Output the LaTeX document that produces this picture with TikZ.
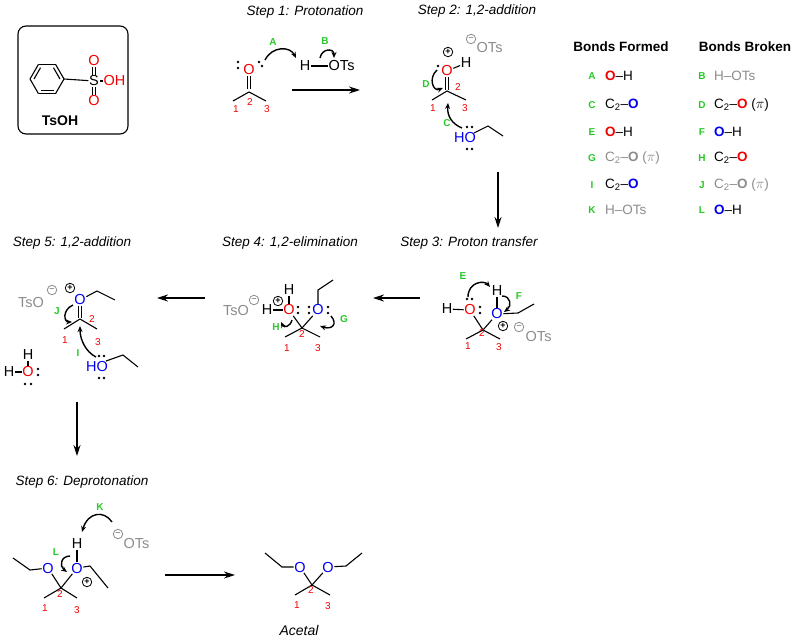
\documentclass[tikz,border=0pt]{standalone}
\usepackage{fontspec}
\setmainfont{Liberation Sans}
\usetikzlibrary{arrows.meta}
\definecolor{ored}{RGB}{240,0,0}
\definecolor{oblue}{RGB}{0,0,240}
\definecolor{lgreen}{RGB}{40,200,40}
\definecolor{tsgray}{RGB}{140,140,140}
\tikzset{
  atom/.style={inner sep=0.5pt,font=\fontsize{14.5}{15}\selectfont},
  ored/.style={atom,text=ored},
  oblue/.style={atom,text=oblue},
  num/.style={inner sep=0pt,text=ored,font=\fontsize{10}{10}\selectfont},
  lbl/.style={inner sep=0pt,text=lgreen,font=\fontsize{10}{10}\selectfont\bfseries},
  steptitle/.style={inner sep=0pt,font=\fontsize{13.5}{14}\selectfont\itshape},
  gray/.style={atom,text=tsgray},
  chg/.style={circle,draw,line width=0.8pt,inner sep=0pt,minimum size=9.5pt,font=\fontsize{9}{9}\selectfont\bfseries},
  bond/.style={line width=1.1pt},
  push/.style={line width=1.4pt,-{Stealth[length=6pt,width=5pt]}},
  react/.style={line width=1.2pt,-{Stealth[length=11pt,width=7pt]}},
  lp/.style={circle,fill,inner sep=0pt,minimum size=2.6pt},
  tbl/.style={anchor=west,inner sep=0pt,font=\fontsize{13.5}{14}\selectfont},
}
\begin{document}
\begin{tikzpicture}[x=1pt,y=-1pt]
\useasboundingbox (0,0) rectangle (794,640);

% TsOH
\draw[line width=1.1pt,rounded corners=8pt] (18,26) rectangle (128,134);
\foreach \a in {0,60,...,300} \draw[bond,shift={(47,79)}] (\a:17) -- (\a+60:17);
\foreach \a in {0,120,240} \draw[bond,shift={(47,79)}] (\a+60:13) -- (\a+120:13);
\node[atom] (s) at (94,81) {S};
\node[ored] (so1) at (94,61) {O};
\node[ored] (so2) at (94,101) {O};
\node[ored,anchor=west] (soh) at (103,81) {OH};
\draw[bond] (64,79) -- (s);
\draw[bond] (s) -- (soh);
\draw[bond] ([xshift=-1.5pt]s.north) -- ([xshift=-1.5pt]so1.south);
\draw[bond] ([xshift=1.5pt]s.north) -- ([xshift=1.5pt]so1.south);
\draw[bond] ([xshift=-1.5pt]s.south) -- ([xshift=-1.5pt]so2.north);
\draw[bond] ([xshift=1.5pt]s.south) -- ([xshift=1.5pt]so2.north);
\node[font=\fontsize{14}{14}\selectfont\bfseries] (tsoh) at (60,121) {TsOH};

% Step 1
\node[steptitle] (t1) at (305,12) {Step 1: Protonation};
\node[ored] (o1) at (249,70) {O};
\coordinate (c1) at (249,92);
\draw[bond] ([xshift=-1.5pt]o1.south) -- ++(0,13);
\draw[bond] ([xshift=1.5pt]o1.south) -- ++(0,13);
\draw[bond] (233,101) -- (c1) -- (266,101);
\node[lp] at (238,62) {}; \node[lp] at (238,68) {};
\node[lp] at (259,62) {}; \node[lp] at (262,66) {};
\node[num] at (236,109) {1}; \node[num] at (250,102) {2}; \node[num] at (267,109) {3};
\node[atom] (h1) at (305,66) {H};
\node[atom,anchor=west] (ots1) at (328,66) {OTs};
\draw[bond] (h1) -- (ots1);
\draw[push] (265,60) .. controls (272,46) and (290,46) .. (296,58);
\node[lbl] (la) at (273,42) {A};
\draw[push] (320,58) .. controls (322,48) and (334,48) .. (334,58);
\node[lbl] (lb) at (325,41) {B};
\coordinate (r1a) at (292,90); \coordinate (r1b) at (360,90);
\draw[react] (r1a) -- (r1b);

% Step 2
\node[steptitle] (t2) at (477,11) {Step 2: 1,2-addition};
\node[ored] (o2) at (447,71) {O};
\node[atom] (h2) at (466,63) {H};
\draw[bond] (o2) -- (h2);
\node[chg] at (448,52) {+};
\node[chg,text=tsgray,draw=tsgray] at (471,39) {--};
\node[gray,anchor=west] at (476,48) {OTs};
\draw[bond] ([xshift=-1.5pt]o2.south) -- ++(0,13);
\draw[bond] ([xshift=1.5pt]o2.south) -- ++(0,13);
\draw[bond] (432,100) -- (447,91) -- (466,100);
\node[num] at (433,108) {1}; \node[num] at (458,87) {2}; \node[num] at (465,108) {3};
\node[lp] at (438,66) {}; 
\draw[push] (437,70) .. controls (428,78) and (433,92) .. (443,88);
\node[lbl] (ld) at (426,84) {D};
\node[oblue] (ho2) at (465,138) {HO};
\draw[bond] (474,133) -- (488,126) -- (503,136);
\node[lp] at (467,127) {}; \node[lp] at (472,127) {};
\node[lp] at (467,149) {}; \node[lp] at (472,149) {};
\draw[push] (462,128) .. controls (452,124) and (447,116) .. (448,103);
\node[lbl] (lc) at (447,123) {C};
\draw[react] (498,172) -- (498,228);

% Bonds table
\node[font=\fontsize{13.5}{14}\selectfont\bfseries] at (621,47) {Bonds Formed};
\node[font=\fontsize{13.5}{14}\selectfont\bfseries] at (745,47) {Bonds Broken};
\newcommand{\bO}[1]{\textcolor{#1}{\textbf{O}}}
\newcommand{\ctwo}{C\textsubscript{2}}
\foreach \y/\la/\fa/\lb/\fb in {
  76/A/{\bO{ored}--H}/B/{\textcolor{tsgray}{H--OTs}},
  105/C/{\ctwo--\bO{oblue}}/D/{\ctwo--\bO{ored} ($\pi$)},
  132/E/{\bO{ored}--H}/F/{\bO{oblue}--H},
  158/G/{\textcolor{tsgray}{\ctwo--\textbf{O} ($\pi$)}}/H/{\ctwo--\bO{ored}},
  185/I/{\ctwo--\bO{oblue}}/J/{\textcolor{tsgray}{\ctwo--\textbf{O} ($\pi$)}},
  210/K/{\textcolor{tsgray}{H--OTs}}/L/{\bO{oblue}--H}}{
  \node[lbl] at (592,\y) {\la};
  \node[tbl] at (605,\y) {\fa};
  \node[lbl] at (702,\y) {\lb};
  \node[tbl] at (714,\y) {\fb};
}

% Step 3
\node[steptitle] (t3) at (469,243) {Step 3: Proton transfer};
\node[atom] (h3a) at (447,309) {H};
\node[ored] (o3a) at (470,310) {O};
\draw[bond] (h3a) -- (o3a);
\node[oblue] (o3b) at (497,314) {O};
\node[atom] (h3b) at (497,291) {H};
\draw[bond] (h3b) -- (o3b);
\draw[bond] (o3a) -- (483,330) -- (o3b);
\draw[bond] (466,339) -- (483,330) -- (500,339);
\draw[bond] (o3b) -- (518,313) -- (534,304);
\node[chg] at (503,326) {+};
\node[lp] at (467,299) {}; \node[lp] at (472,299) {};
\node[lp] at (480,307) {}; \node[lp] at (480,313) {};
\node[chg,text=tsgray,draw=tsgray] at (519,327) {--};
\node[gray,anchor=west] at (525,337) {OTs};
\node[num] at (468,346) {1}; \node[num] at (482,333) {2}; \node[num] at (499,347) {3};
\draw[push] (468,297) .. controls (468,282) and (484,280) .. (490,287);
\node[lbl] (le) at (463,276) {E};
\draw[push] (502,296) .. controls (511,296) and (512,306) .. (504,312);
\node[lbl] (lf) at (519,296) {F};
\draw[react] (420,298) -- (373,298);

% Step 4
\node[steptitle] (t4) at (290,243) {Step 4: 1,2-elimination};
\node[gray] (ts4) at (236,311) {TsO};
\node[chg,text=tsgray,draw=tsgray] at (254,300) {--};
\node[atom] (h4a) at (267,310) {H};
\node[ored] (o4a) at (289,310) {O};
\node[atom] (h4b) at (289,290) {H};
\draw[bond] (h4a) -- (o4a); \draw[bond] (h4b) -- (o4a);
\node[chg] at (278,301) {+};
\node[oblue] (o4b) at (318,310) {O};
\draw[bond] (o4a) -- (302,328) -- (o4b);
\draw[bond] (285,337) -- (302,328) -- (320,337);
\draw[bond] (o4b) -- (318,290) -- (333,280);
\node[lp] at (298,307) {}; \node[lp] at (298,313) {};
\node[lp] at (309,307) {}; \node[lp] at (309,313) {};
\node[lp] at (328,307) {}; \node[lp] at (328,313) {};
\node[num] at (287,348) {1}; \node[num] at (302,334) {2}; \node[num] at (318,348) {3};
\draw[push] (292,320) .. controls (290,327) and (284,328) .. (281,322);
\node[lbl] (lh) at (276,327) {H};
\draw[push] (331,316) .. controls (338,324) and (332,330) .. (320,326);
\node[lbl] (lg) at (344,319) {G};
\draw[react] (205,298) -- (157,298);

% Step 5
\node[steptitle] (t5) at (72,243) {Step 5: 1,2-addition};
\node[gray] (ts5) at (31,303) {TsO};
\node[chg,text=tsgray,draw=tsgray] at (52,290) {--};
\node[chg] at (70,288) {+};
\node[oblue] (o5) at (80,300) {O};
\draw[bond] (o5) -- (97,291) -- (115,300);
\draw[bond] ([xshift=-1.5pt]o5.south) -- ++(0,12);
\draw[bond] ([xshift=1.5pt]o5.south) -- ++(0,12);
\draw[bond] (64,329) -- (80,319) -- (97,329);
\node[num] at (65,340) {1}; \node[num] at (92,319) {2}; \node[num] at (98,342) {3};
\draw[push] (73,305) .. controls (62,310) and (64,322) .. (72,322);
\node[lbl] (lj) at (57,311) {J};
\node[oblue] (ho5) at (97,367) {HO};
\draw[bond] (106,361) -- (123,355) -- (138,367);
\node[lp] at (99,356) {}; \node[lp] at (104,356) {};
\node[lp] at (99,378) {}; \node[lp] at (104,378) {};
\draw[push] (96,357) .. controls (86,352) and (80,340) .. (80,326);
\node[lbl] (li) at (78,353) {I};
\node[atom] (hw1) at (28,355) {H};
\node[atom] (hw2) at (9,372) {H};
\node[ored] (ow) at (28,372) {O};
\draw[bond] (hw1) -- (ow); \draw[bond] (hw2) -- (ow);
\node[lp] at (38,369) {}; \node[lp] at (38,375) {};
\node[lp] at (25,384) {}; \node[lp] at (31,384) {};
\draw[react] (77,402) -- (77,456);

% Step 6
\node[steptitle] (t6) at (82,482) {Step 6: Deprotonation};
\node[oblue] (o6a) at (48,568) {O};
\node[oblue] (o6b) at (77,568) {O};
\node[atom] (h6) at (77,544) {H};
\draw[bond] (h6) -- (o6b);
\draw[bond] (o6a) -- (61,588) -- (o6b);
\draw[bond] (44,598) -- (61,588) -- (77,598);
\draw[bond] (13,558) -- (30,570) -- (o6a);
\draw[bond] (o6b) -- (90,566) -- (108,588);
\node[chg] at (87,582) {+};
\node[num] at (45,608) {1}; \node[num] at (60,594) {2}; \node[num] at (77,610) {3};
\draw[push] (112,522) .. controls (104,510) and (88,512) .. (82,532);
\node[lbl] (lk) at (100,507) {K};
\node[chg,text=tsgray,draw=tsgray] at (118,534) {--};
\node[gray,anchor=west] at (123,543) {OTs};
\draw[push] (70,556) .. controls (61,556) and (59,566) .. (67,572);
\node[lbl] (ll) at (56,552) {L};
\draw[react] (165,575) -- (235,575);

% Acetal
\node[oblue] (o7a) at (300,567) {O};
\node[oblue] (o7b) at (328,567) {O};
\draw[bond] (o7a) -- (312,585) -- (o7b);
\draw[bond] (295,595) -- (312,585) -- (330,595);
\draw[bond] (265,553) -- (282,567) -- (o7a);
\draw[bond] (o7b) -- (346,566) -- (362,553);
\node[num] at (297,605) {1}; \node[num] at (311,590) {2}; \node[num] at (328,606) {3};
\node[steptitle,font=\fontsize{14}{14}\selectfont\itshape] (acetal) at (299,630) {Acetal};
\end{tikzpicture}
\end{document}
